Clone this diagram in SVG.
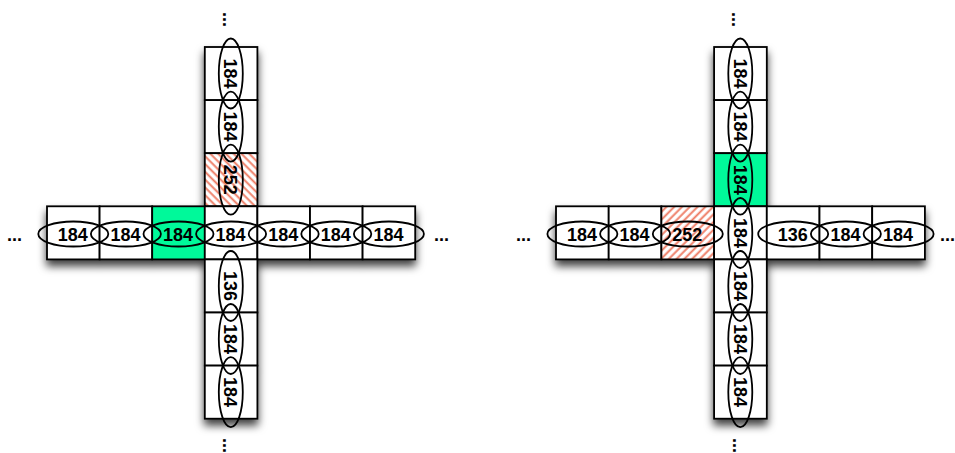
<svg xmlns="http://www.w3.org/2000/svg" width="955" height="453" viewBox="0 0 955 453">
<style>
.c{fill:#ffffff;stroke:#000;stroke-width:1.8}
.g{fill:#00f99a;stroke:#000;stroke-width:1.8}
.hv{fill:url(#hatchV);stroke:#000;stroke-width:1.8}
.hh{fill:url(#hatchH);stroke:#000;stroke-width:1.8}
ellipse{fill:none;stroke:#000;stroke-width:1.8}
text{font-family:"Liberation Sans",Arial,Helvetica,sans-serif;font-weight:bold;font-size:18px;fill:#000;text-anchor:middle}
.d{text-anchor:start}
</style>
<defs>
<pattern id="hatchV" patternUnits="userSpaceOnUse" width="5.5" height="5.5" patternTransform="rotate(-45)">
<rect width="5.5" height="5.5" fill="#fff"/>
<line x1="1.5" y1="0" x2="1.5" y2="5.5" stroke="#ee7a62" stroke-width="1.9"/>
</pattern>
<pattern id="hatchH" patternUnits="userSpaceOnUse" width="5.5" height="5.5" patternTransform="rotate(45)">
<rect width="5.5" height="5.5" fill="#fff"/>
<line x1="1.5" y1="0" x2="1.5" y2="5.5" stroke="#ee7a62" stroke-width="1.9"/>
</pattern>
<filter id="sh" x="-20%" y="-20%" width="140%" height="140%">
<feDropShadow dx="0" dy="6" stdDeviation="4.5" flood-color="#000" flood-opacity="0.75"/>
</filter>
</defs>

<!-- Left cross cells -->
<g id="left-cells" filter="url(#sh)">
<rect class="c" x="204.8" y="47" width="52.6" height="53.1"/>
<rect class="c" x="204.8" y="100.1" width="52.6" height="53.1"/>
<rect class="hv" x="204.8" y="153.2" width="52.6" height="53.1"/>
<rect class="c" x="47" y="206.3" width="52.6" height="53.1"/>
<rect class="c" x="99.6" y="206.3" width="52.6" height="53.1"/>
<rect class="g" x="152.2" y="206.3" width="52.6" height="53.1"/>
<rect class="c" x="204.8" y="206.3" width="52.6" height="53.1"/>
<rect class="c" x="257.4" y="206.3" width="52.6" height="53.1"/>
<rect class="c" x="310" y="206.3" width="52.6" height="53.1"/>
<rect class="c" x="362.6" y="206.3" width="52.6" height="53.1"/>
<rect class="c" x="204.8" y="259.4" width="52.6" height="53.1"/>
<rect class="c" x="204.8" y="312.5" width="52.6" height="53.1"/>
<rect class="c" x="204.8" y="365.6" width="52.6" height="53.1"/>
</g>

<!-- Right cross cells -->
<g id="right-cells" filter="url(#sh)">
<rect class="c" x="714.1" y="47" width="52.7" height="53.1"/>
<rect class="c" x="714.1" y="100.1" width="52.7" height="53.1"/>
<rect class="g" x="714.1" y="153.2" width="52.7" height="53.1"/>
<rect class="c" x="556" y="206.3" width="52.7" height="53.1"/>
<rect class="c" x="608.7" y="206.3" width="52.7" height="53.1"/>
<rect class="hh" x="661.4" y="206.3" width="52.7" height="53.1"/>
<rect class="c" x="714.1" y="206.3" width="52.7" height="53.1"/>
<rect class="c" x="766.8" y="206.3" width="52.7" height="53.1"/>
<rect class="c" x="819.5" y="206.3" width="52.7" height="53.1"/>
<rect class="c" x="872.2" y="206.3" width="52.7" height="53.1"/>
<rect class="c" x="714.1" y="259.4" width="52.7" height="53.1"/>
<rect class="c" x="714.1" y="312.5" width="52.7" height="53.1"/>
<rect class="c" x="714.1" y="365.6" width="52.7" height="53.1"/>
</g>

<!-- Left cross nodes -->
<g id="L-v1"><ellipse cx="230.8" cy="73.5" rx="12" ry="35"/><text x="230.8" y="80" textLength="30" lengthAdjust="spacingAndGlyphs" transform="rotate(90 230.8 73.5)">184</text></g>
<g id="L-v2"><ellipse cx="230.8" cy="126.6" rx="12" ry="35"/><text x="230.8" y="133.1" textLength="30" lengthAdjust="spacingAndGlyphs" transform="rotate(90 230.8 126.6)">184</text></g>
<g id="L-v3"><ellipse cx="230.8" cy="179.7" rx="12" ry="35"/><text x="230.8" y="186.2" textLength="30" lengthAdjust="spacingAndGlyphs" transform="rotate(90 230.8 179.7)">252</text></g>
<g id="L-h1"><ellipse cx="73.3" cy="234" rx="35" ry="12.5"/><text x="72.8" y="240.5" textLength="30" lengthAdjust="spacingAndGlyphs">184</text></g>
<g id="L-h2"><ellipse cx="125.9" cy="234" rx="35" ry="12.5"/><text x="125.4" y="240.5" textLength="30" lengthAdjust="spacingAndGlyphs">184</text></g>
<g id="L-h3"><ellipse cx="178.5" cy="234" rx="35" ry="12.5"/><text x="178" y="240.5" textLength="30" lengthAdjust="spacingAndGlyphs">184</text></g>
<g id="L-h4"><ellipse cx="231.1" cy="234" rx="35" ry="12.5"/><text x="230.6" y="240.5" textLength="30" lengthAdjust="spacingAndGlyphs">184</text></g>
<g id="L-h5"><ellipse cx="283.7" cy="234" rx="35" ry="12.5"/><text x="283.2" y="240.5" textLength="30" lengthAdjust="spacingAndGlyphs">184</text></g>
<g id="L-h6"><ellipse cx="336.3" cy="234" rx="35" ry="12.5"/><text x="335.8" y="240.5" textLength="30" lengthAdjust="spacingAndGlyphs">184</text></g>
<g id="L-h7"><ellipse cx="388.9" cy="234" rx="35" ry="12.5"/><text x="388.4" y="240.5" textLength="30" lengthAdjust="spacingAndGlyphs">184</text></g>
<g id="L-v5"><ellipse cx="230.8" cy="286" rx="12" ry="35"/><text x="230.8" y="292.5" textLength="30" lengthAdjust="spacingAndGlyphs" transform="rotate(90 230.8 286)">136</text></g>
<g id="L-v6"><ellipse cx="230.8" cy="339" rx="12" ry="35"/><text x="230.8" y="345.5" textLength="30" lengthAdjust="spacingAndGlyphs" transform="rotate(90 230.8 339)">184</text></g>
<g id="L-v7"><ellipse cx="230.8" cy="392.1" rx="12" ry="35"/><text x="230.8" y="398.6" textLength="30" lengthAdjust="spacingAndGlyphs" transform="rotate(90 230.8 392.1)">184</text></g>

<!-- Right cross nodes -->
<g id="R-v1"><ellipse cx="740.3" cy="73.5" rx="12" ry="35"/><text x="740.3" y="80" textLength="30" lengthAdjust="spacingAndGlyphs" transform="rotate(90 740.3 73.5)">184</text></g>
<g id="R-v2"><ellipse cx="740.3" cy="126.6" rx="12" ry="35"/><text x="740.3" y="133.1" textLength="30" lengthAdjust="spacingAndGlyphs" transform="rotate(90 740.3 126.6)">184</text></g>
<g id="R-v3"><ellipse cx="740.3" cy="179.7" rx="12" ry="35"/><text x="740.3" y="186.2" textLength="30" lengthAdjust="spacingAndGlyphs" transform="rotate(90 740.3 179.7)">184</text></g>
<g id="R-h1"><ellipse cx="582.4" cy="234" rx="35" ry="12.5"/><text x="581.9" y="240.5" textLength="30" lengthAdjust="spacingAndGlyphs">184</text></g>
<g id="R-h2"><ellipse cx="635.1" cy="234" rx="35" ry="12.5"/><text x="634.6" y="240.5" textLength="30" lengthAdjust="spacingAndGlyphs">184</text></g>
<g id="R-h3"><ellipse cx="687.8" cy="234" rx="35" ry="12.5"/><text x="687.3" y="240.5" textLength="30" lengthAdjust="spacingAndGlyphs">252</text></g>
<g id="R-v4"><ellipse cx="740.3" cy="233" rx="12" ry="35"/><text x="740.3" y="239.5" textLength="30" lengthAdjust="spacingAndGlyphs" transform="rotate(90 740.3 233)">184</text></g>
<g id="R-h5"><ellipse cx="793.2" cy="234" rx="35" ry="12.5"/><text x="792.7" y="240.5" textLength="30" lengthAdjust="spacingAndGlyphs">136</text></g>
<g id="R-h6"><ellipse cx="845.9" cy="234" rx="35" ry="12.5"/><text x="845.4" y="240.5" textLength="30" lengthAdjust="spacingAndGlyphs">184</text></g>
<g id="R-h7"><ellipse cx="898.6" cy="234" rx="35" ry="12.5"/><text x="898.1" y="240.5" textLength="30" lengthAdjust="spacingAndGlyphs">184</text></g>
<g id="R-v5"><ellipse cx="740.3" cy="286" rx="12" ry="35"/><text x="740.3" y="292.5" textLength="30" lengthAdjust="spacingAndGlyphs" transform="rotate(90 740.3 286)">184</text></g>
<g id="R-v6"><ellipse cx="740.3" cy="339" rx="12" ry="35"/><text x="740.3" y="345.5" textLength="30" lengthAdjust="spacingAndGlyphs" transform="rotate(90 740.3 339)">184</text></g>
<g id="R-v7"><ellipse cx="740.3" cy="392.1" rx="12" ry="35"/><text x="740.3" y="398.6" textLength="30" lengthAdjust="spacingAndGlyphs" transform="rotate(90 740.3 392.1)">184</text></g>

<!-- Ellipsis marks -->
<g id="dots">
<text class="d" x="7" y="240.5">...</text>
<text class="d" x="434" y="240.5">...</text>
<text x="222.5" y="19.5" transform="rotate(90 222.5 19.5)">...</text>
<text x="222.5" y="445.5" transform="rotate(90 222.5 445.5)">...</text>
<text class="d" x="516" y="240.5">...</text>
<text class="d" x="940" y="240.5">...</text>
<text x="731.5" y="19.5" transform="rotate(90 731.5 19.5)">...</text>
<text x="732.5" y="445.5" transform="rotate(90 732.5 445.5)">...</text>
</g>
</svg>
